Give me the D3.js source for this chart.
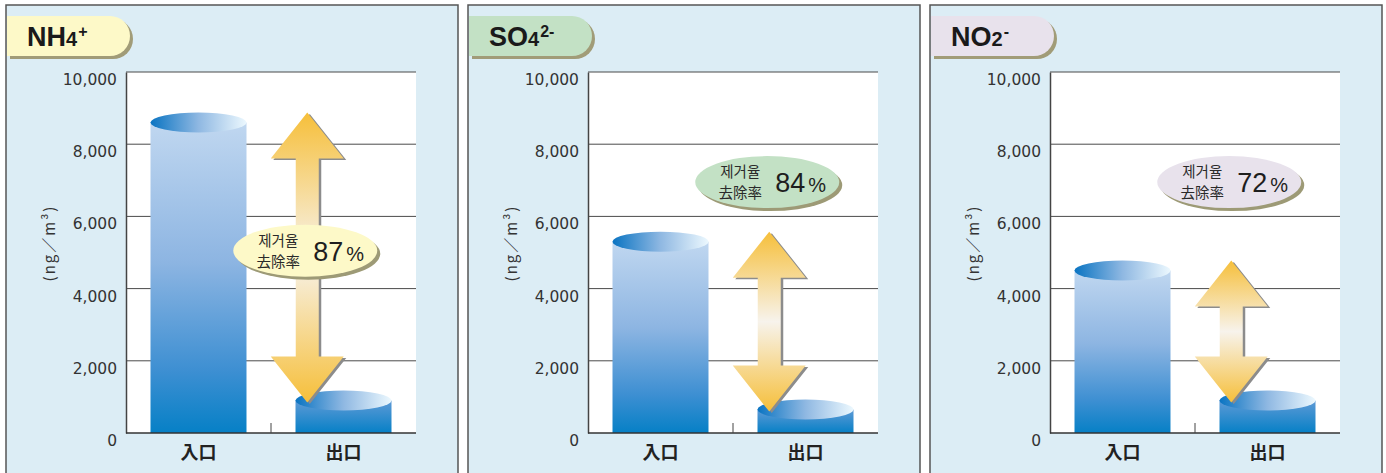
<!DOCTYPE html>
<html>
<head>
<meta charset="utf-8">
<script src="https://d3js.org/d3.v7.min.js"></script>
<style>
  body { margin: 0; background: #fff; }
  svg text { font-family: "Liberation Sans", Arial, sans-serif; }
  svg text.tick-num { font-family: "DejaVu Sans", sans-serif; }
  .cjk { font-family: "Noto Sans CJK KR", "Noto Sans CJK JP", sans-serif; }
</style>
</head>
<body>
<svg width="1386" height="473"></svg>
<script>
// data
var ionBase = ["NH", "SO", "NO"];
var ionSub = ["4", "4", "2"];
var ionCharge = ["+", "2-", "-"];
var categories = ["入口", "出口"];
var inletValues = [8600, 5300, 4500];
var outletValues = [900, 650, 900];
var removalRates = [87, 84, 72];
var yTicks = [0, 2000, 4000, 6000, 8000, 10000];

// layout / style
var tabColors = ["#fdf9c8", "#c3e1c5", "#e8e2ec"];
var bubbleLevels = [5050, 6950, 6950];
var panelW = 452, panelStep = 462;
var plotL = 120, plotR = 410, plotT = 67, plotB = 428;

var svg = d3.select("svg");
var defs = svg.append("defs");

var g1 = defs.append("linearGradient").attr("id", "bodyTall")
    .attr("x1", 0).attr("y1", 0).attr("x2", 0).attr("y2", 1);
g1.append("stop").attr("offset", 0).attr("stop-color", "#c0d7f0");
g1.append("stop").attr("offset", 0.45).attr("stop-color", "#8db5e2");
g1.append("stop").attr("offset", 0.8).attr("stop-color", "#3d8fd2");
g1.append("stop").attr("offset", 1).attr("stop-color", "#0680c6");

var g2 = defs.append("linearGradient").attr("id", "bodyShort")
    .attr("x1", 0).attr("y1", 0).attr("x2", 0).attr("y2", 1);
g2.append("stop").attr("offset", 0).attr("stop-color", "#5e9ad6");
g2.append("stop").attr("offset", 1).attr("stop-color", "#0680c6");

var g3 = defs.append("linearGradient").attr("id", "capGrad")
    .attr("x1", 0).attr("y1", 0).attr("x2", 1).attr("y2", 0);
g3.append("stop").attr("offset", 0).attr("stop-color", "#0a74c2");
g3.append("stop").attr("offset", 0.5).attr("stop-color", "#8fb8e2");
g3.append("stop").attr("offset", 1).attr("stop-color", "#ecf8fe");

var g4 = defs.append("linearGradient").attr("id", "arrowGrad")
    .attr("x1", 0).attr("y1", 0).attr("x2", 0).attr("y2", 1);
g4.append("stop").attr("offset", 0).attr("stop-color", "#f6bf3a");
g4.append("stop").attr("offset", 0.5).attr("stop-color", "#f7f3ec");
g4.append("stop").attr("offset", 1).attr("stop-color", "#f6bf3a");

var y = d3.scaleLinear().domain([0, 10000]).range([plotB, plotT]);
var x = d3.scaleBand().domain(categories).range([plotL, plotR])
    .paddingInner(0.338).paddingOuter(0.169);
var bw = x.bandwidth();

var arrowPath = function(cx, t, b) {
  var hw = 36.5, hh = 46, sw = 11.5;
  var p = d3.path();
  p.moveTo(cx, t);
  p.lineTo(cx + hw, t + hh); p.lineTo(cx + sw, t + hh);
  p.lineTo(cx + sw, b - hh); p.lineTo(cx + hw, b - hh);
  p.lineTo(cx, b);
  p.lineTo(cx - hw, b - hh); p.lineTo(cx - sw, b - hh);
  p.lineTo(cx - sw, t + hh); p.lineTo(cx - hw, t + hh);
  p.closePath();
  return p.toString();
};

ionBase.forEach(function(base, i) {
  var panel = svg.append("g").attr("transform", "translate(" + (6 + i * panelStep) + ",5)");

  panel.append("rect").attr("width", panelW).attr("height", 480)
      .attr("fill", "#dcedf5").attr("stroke", "#555").attr("stroke-width", 1.5);

  // title tab
  var tab = "M1,11H104A20,20 0 0 1 124,31A20,20 0 0 1 104,51H1Z";
  panel.append("path").attr("d", tab).attr("transform", "translate(3,3)").attr("fill", "#a19c78");
  panel.append("path").attr("d", tab).attr("fill", tabColors[i]);
  var title = panel.append("text").attr("x", 21).attr("y", 41)
      .attr("font-weight", "bold").attr("fill", "#1a1a1a");
  title.append("tspan").attr("font-size", 27).text(base);
  title.append("tspan").attr("font-size", 20).text(ionSub[i]);
  title.append("tspan").attr("font-size", 16).attr("dx", 1).attr("dy", -9).text(ionCharge[i]);

  // plot area
  panel.append("rect").attr("x", plotL).attr("y", plotT)
      .attr("width", plotR - plotL).attr("height", plotB - plotT).attr("fill", "#fff");

  panel.selectAll(".grid").data(yTicks.slice(1)).enter().append("line")
      .attr("x1", plotL).attr("x2", plotR)
      .attr("y1", function(d) { return y(d); }).attr("y2", function(d) { return y(d); })
      .attr("stroke", "#4a4a4a").attr("stroke-width", 1);

  var yAxis = panel.append("g").attr("transform", "translate(" + plotL + ",0)")
      .call(d3.axisLeft(y).tickValues(yTicks).tickFormat(d3.format(",")).tickSize(0).tickPadding(9));
  yAxis.select(".domain").attr("stroke", "#444").attr("stroke-width", 1.5);
  yAxis.selectAll("text").attr("class", "tick-num").attr("font-size", 15.5)
      .attr("fill", "#333").attr("dy", "0.8em");

  panel.append("text").attr("class", "cjk")
      .attr("transform", "translate(49,238) rotate(-90)")
      .attr("text-anchor", "middle").attr("font-size", 15).attr("fill", "#333")
      .attr("letter-spacing", 2)
      .text("(ng／m³)");

  // bars as cylinders
  var vals = [inletValues[i], outletValues[i]];
  var bars = panel.selectAll(".bar").data(categories).enter().append("g");
  bars.append("rect")
      .attr("x", function(d) { return x(d); })
      .attr("y", function(d, j) { return y(vals[j]); })
      .attr("width", bw)
      .attr("height", function(d, j) { return y(0) - y(vals[j]); })
      .attr("fill", function(d, j) { return j === 0 ? "url(#bodyTall)" : "url(#bodyShort)"; });
  bars.append("ellipse")
      .attr("cx", function(d) { return x(d) + bw / 2; })
      .attr("cy", function(d, j) { return y(vals[j]); })
      .attr("rx", bw / 2).attr("ry", 10)
      .attr("fill", "url(#capGrad)");

  // x axis
  panel.append("line").attr("x1", plotL).attr("x2", plotR)
      .attr("y1", y(0)).attr("y2", y(0)).attr("stroke", "#333").attr("stroke-width", 1.5);
  var mid = x(categories[1]) - (x.step() - bw) / 2;
  panel.append("line").attr("x1", mid).attr("x2", mid)
      .attr("y1", y(0) - 10).attr("y2", y(0)).attr("stroke", "#444");
  panel.selectAll(".cat").data(categories).enter().append("text")
      .attr("class", "cjk")
      .attr("x", function(d) { return x(d) + bw / 2; })
      .attr("y", y(0) + 26)
      .attr("text-anchor", "middle").attr("font-size", 18).attr("font-weight", "bold")
      .attr("fill", "#222").text(function(d) { return d; });

  // double arrow
  var acx = (mid + x(categories[1]) + bw / 2) / 2;
  var d = arrowPath(acx, y(vals[0]) - 10, y(vals[1]) + 2);
  panel.append("path").attr("d", d).attr("transform", "translate(2.5,1.5)").attr("fill", "#8c8c8c");
  panel.append("path").attr("d", d).attr("fill", "url(#arrowGrad)");

  // removal rate bubble
  var by = y(bubbleLevels[i]), bx = acx - 2;
  panel.append("ellipse").attr("cx", bx + 3).attr("cy", by + 3).attr("rx", 72).attr("ry", 26)
      .attr("fill", "#9d9a76");
  panel.append("ellipse").attr("cx", bx).attr("cy", by).attr("rx", 72).attr("ry", 26)
      .attr("fill", tabColors[i]);
  panel.append("text").attr("class", "cjk").attr("font-size", 14.5).attr("fill", "#2a2a2a")
      .attr("text-anchor", "middle").attr("x", bx - 27).attr("y", by - 5).text("제거율");
  panel.append("text").attr("class", "cjk").attr("font-size", 14.5).attr("fill", "#2a2a2a")
      .attr("text-anchor", "middle").attr("x", bx - 27).attr("y", by + 16).text("去除率");
  var num = panel.append("text").attr("x", bx + 8).attr("y", by + 10).attr("fill", "#1e1e1e");
  num.append("tspan").attr("font-size", 27).text(removalRates[i]);
  num.append("tspan").attr("font-size", 20).attr("dx", 3).text("%");
});
</script>
</body>
</html>
